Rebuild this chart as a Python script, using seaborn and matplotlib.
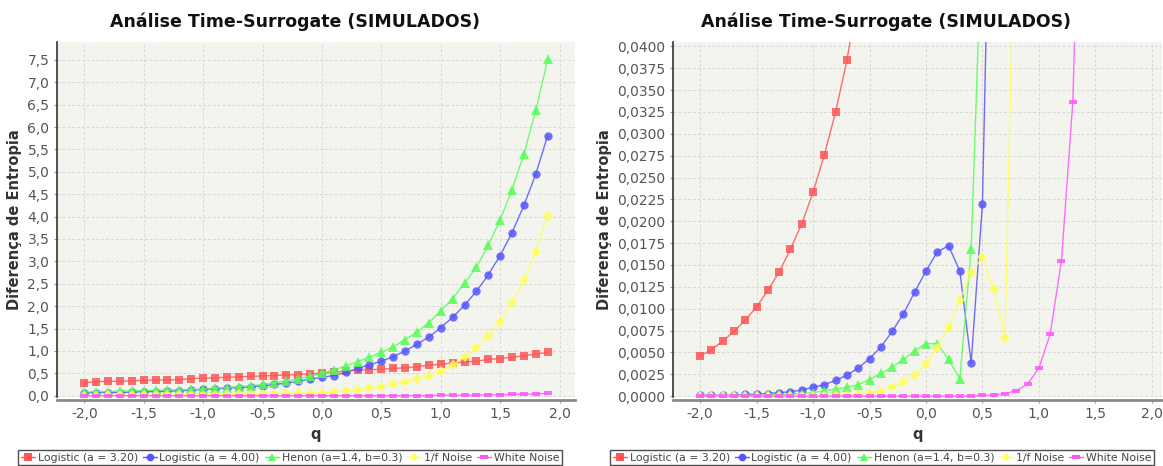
import numpy as np
import pandas as pd
import matplotlib
matplotlib.use("Agg")
import matplotlib.pyplot as plt
from matplotlib.lines import Line2D
from matplotlib.ticker import FuncFormatter, MultipleLocator
import seaborn as sns

# q values shared by every series
q = [-2.0, -1.9, -1.8, -1.7, -1.6, -1.5, -1.4, -1.3, -1.2, -1.1,
     -1.0, -0.9, -0.8, -0.7, -0.6, -0.5, -0.4, -0.3, -0.2, -0.1,
     0.0, 0.1, 0.2, 0.3, 0.4, 0.5, 0.6, 0.7, 0.8, 0.9,
     1.0, 1.1, 1.2, 1.3, 1.4, 1.5, 1.6, 1.7, 1.8, 1.9]

series_names = ["Logistic (a = 3.20)", "Logistic (a = 4.00)",
                "Henon (a=1.4, b=0.3)", "1/f Noise", "White Noise"]

# ---- left chart: entropy difference ----
left_log320 = [0.29, 0.31, 0.32, 0.32, 0.33, 0.34, 0.35, 0.35, 0.36, 0.38,
               0.39, 0.40, 0.41, 0.42, 0.43, 0.44, 0.45, 0.46, 0.47, 0.49,
               0.50, 0.52, 0.55, 0.57, 0.58, 0.59, 0.61, 0.62, 0.65, 0.68,
               0.70, 0.73, 0.75, 0.77, 0.81, 0.83, 0.86, 0.89, 0.93, 0.97]
left_log400 = [0.06, 0.07, 0.07, 0.07, 0.08, 0.09, 0.09, 0.10, 0.11, 0.12,
               0.14, 0.15, 0.17, 0.18, 0.20, 0.22, 0.25, 0.28, 0.32, 0.37,
               0.41, 0.45, 0.52, 0.61, 0.69, 0.77, 0.87, 1.00, 1.15, 1.31,
               1.52, 1.75, 2.02, 2.33, 2.70, 3.13, 3.64, 4.25, 4.95, 5.81]
left_henon = [0.08, 0.09, 0.09, 0.10, 0.11, 0.11, 0.12, 0.13, 0.13, 0.14,
              0.15, 0.17, 0.18, 0.20, 0.22, 0.25, 0.29, 0.33, 0.38, 0.43,
              0.50, 0.58, 0.66, 0.76, 0.86, 0.97, 1.09, 1.25, 1.42, 1.63,
              1.89, 2.17, 2.51, 2.87, 3.36, 3.93, 4.60, 5.40, 6.37, 7.51]
left_pink = [0.00, 0.00, 0.01, 0.01, 0.01, 0.01, 0.01, 0.01, 0.02, 0.02,
             0.02, 0.02, 0.03, 0.03, 0.03, 0.04, 0.04, 0.05, 0.05, 0.06,
             0.07, 0.08, 0.10, 0.13, 0.16, 0.20, 0.25, 0.30, 0.37, 0.45,
             0.55, 0.68, 0.86, 1.07, 1.33, 1.65, 2.07, 2.58, 3.21, 4.02]
left_white = [0.00, 0.00, 0.00, 0.00, 0.00, 0.00, 0.00, 0.00, 0.00, 0.00,
              0.00, 0.00, 0.00, 0.00, 0.00, 0.00, 0.00, 0.00, 0.00, 0.00,
              0.00, 0.00, 0.00, 0.00, 0.00, 0.00, 0.00, 0.00, 0.00, 0.00,
              0.01, 0.01, 0.01, 0.01, 0.02, 0.02, 0.03, 0.03, 0.04, 0.05]

# ---- right chart: entropy difference ----
right_log320 = [0.0046, 0.0053, 0.0063, 0.0074, 0.0087, 0.0102, 0.0121, 0.0142, 0.0168, 0.0197,
                0.0233, 0.0276, 0.0325, 0.0384, 0.0460, 0.0550, 0.0650, 0.0770, 0.0910, 0.1080,
                0.1280, 0.1520, 0.1800, 0.2130, 0.2520, 0.2980, 0.3520, 0.4150, 0.4890, 0.5750,
                0.6760, 0.7940, 0.9310, 1.0900, 1.2700, 1.4800, 1.7200, 2.0000, 2.3200, 2.6900]
right_log400 = [0.0001, 0.0001, 0.0001, 0.0001, 0.0002, 0.0002, 0.0003, 0.0004, 0.0005, 0.0007,
                0.0010, 0.0013, 0.0018, 0.0024, 0.0032, 0.0043, 0.0056, 0.0074, 0.0094, 0.0119,
                0.0143, 0.0165, 0.0172, 0.0143, 0.0038, 0.0220, 0.0820, 0.1500, 0.2400, 0.3600,
                0.5200, 0.7200, 0.9800, 1.3000, 1.7000, 2.2000, 2.8000, 3.5500, 4.4500, 5.5500]
right_henon = [0.0000, 0.0000, 0.0001, 0.0001, 0.0001, 0.0001, 0.0002, 0.0002, 0.0002, 0.0003,
               0.0004, 0.0006, 0.0008, 0.0010, 0.0013, 0.0019, 0.0026, 0.0033, 0.0042, 0.0052,
               0.0060, 0.0060, 0.0042, 0.0020, 0.0168, 0.0550, 0.1100, 0.1900, 0.3000, 0.4400,
               0.6200, 0.8500, 1.1400, 1.5000, 1.9500, 2.5000, 3.2000, 4.0500, 5.1000, 6.4000]
right_pink = [0.0000, 0.0000, 0.0000, 0.0000, 0.0000, 0.0000, 0.0000, 0.0000, 0.0000, 0.0000,
              0.0000, 0.0000, 0.0001, 0.0001, 0.0002, 0.0004, 0.0006, 0.0010, 0.0016, 0.0024,
              0.0037, 0.0055, 0.0079, 0.0110, 0.0141, 0.0159, 0.0122, 0.0067, 0.0660, 0.1100,
              0.1800, 0.2700, 0.4000, 0.5700, 0.8000, 1.1000, 1.4800, 1.9800, 2.6000, 3.4000]
right_white = [0.0000, 0.0000, 0.0000, 0.0000, 0.0000, 0.0000, 0.0000, 0.0000, 0.0000, 0.0000,
               0.0000, 0.0000, 0.0000, 0.0000, 0.0000, 0.0000, 0.0000, 0.0000, 0.0000, 0.0000,
               0.0000, 0.0000, 0.0000, 0.0000, 0.0000, 0.0001, 0.0001, 0.0003, 0.0006, 0.0014,
               0.0032, 0.0071, 0.0155, 0.0336, 0.0770, 0.1600, 0.3000, 0.5200, 0.8500, 1.3000]

colors = ["#ff5555", "#5555ff", "#55ff55", "#ffff55", "#ff55ff"]
flat_rect = [(-1.0, -0.45), (1.0, -0.45), (1.0, 0.45), (-1.0, 0.45), (-1.0, -0.45)]
markers = ["s", "o", "^", "D", flat_rect]
msizes = [6, 6, 6.5, 5, 6]

sns.set_theme(style="white")
plt.rcParams["font.family"] = ["DejaVu Sans"]

TITLE = "Análise Time-Surrogate (SIMULADOS)"


def long_frame(values):
    frames = []
    for name, vals in zip(series_names, values):
        frames.append(pd.DataFrame({"q": q, "valor": vals, "serie": name}))
    return pd.concat(frames, ignore_index=True)


def draw_panel(ax, df, ylim, ystep, yfmt, xlim):
    ax.set_facecolor("#f4f4ef")
    for name, col, mk, ms in zip(series_names, colors, markers, msizes):
        sub = df[df["serie"] == name]
        sns.lineplot(data=sub, x="q", y="valor", ax=ax, color=col,
                     marker=mk, markersize=ms, markeredgewidth=0,
                     linewidth=1.0, alpha=0.85, legend=False,
                     estimator=None, sort=False)
    ax.set_xlim(*xlim)
    ax.set_ylim(*ylim)
    ax.xaxis.set_major_locator(MultipleLocator(0.5))
    ax.yaxis.set_major_locator(MultipleLocator(ystep))
    ax.xaxis.set_major_formatter(FuncFormatter(lambda v, p: f"{v:.1f}".replace(".", ",").replace("-0,0", "0,0")))
    ax.yaxis.set_major_formatter(FuncFormatter(lambda v, p: (yfmt.format(v)).replace(".", ",").replace("-", "")))
    ax.grid(True, color="#d8d8d8", linestyle=(0, (3, 2)), linewidth=0.7)
    for s in ["top", "right"]:
        ax.spines[s].set_visible(False)
    ax.spines["left"].set_color("#333333")
    ax.spines["left"].set_linewidth(1.2)
    ax.spines["bottom"].set_color("#8a8a8a")
    ax.spines["bottom"].set_linewidth(2.0)
    ax.spines["bottom"].set_position(("outward", 2))
    ax.tick_params(axis="both", which="major", labelsize=10, labelcolor="#555555",
                   color="#999999", length=2.5, width=0.8, direction="out",
                   left=True, bottom=True, pad=3)
    ax.set_xlabel("q", fontsize=10.5, fontweight="bold", color="#333333", labelpad=4)
    ax.set_ylabel("Diferença de Entropia", fontsize=10.5, fontweight="bold", color="#333333", labelpad=4)


fig = plt.figure(figsize=(11.63, 4.66), dpi=100)
ax1 = fig.add_axes([57 / 1163, 69 / 466, 518 / 1163, 355 / 466])
ax2 = fig.add_axes([673 / 1163, 69 / 466, 489 / 1163, 355 / 466])

draw_panel(ax1, long_frame([left_log320, left_log400, left_henon, left_pink, left_white]),
           (-0.03, 7.9), 0.5, "{:.1f}", (-2.23, 2.13))
draw_panel(ax2, long_frame([right_log320, right_log400, right_henon, right_pink, right_white]),
           (-0.0001, 0.0405), 0.0025, "{:.4f}", (-2.24, 2.09))

for cx in [295 / 1163, 886 / 1163]:
    fig.text(cx, 1 - 22 / 466, TITLE, ha="center", va="center", fontsize=12.5,
             fontweight="bold", color="#111111")

handles = [Line2D([0], [0], color=c, marker=m, markersize=s - 0.5, markeredgewidth=0, linewidth=1.0)
           for c, m, s in zip(colors, markers, msizes)]

for ax, cx in [(ax1, 290 / 1163), (ax2, 882 / 1163)]:
    leg = ax.legend(handles, series_names, ncol=5, loc="lower center",
                    bbox_to_anchor=(cx, 0.0), bbox_transform=fig.transFigure,
                    frameon=True, fancybox=False, fontsize=7.8, handlelength=1.3,
                    handletextpad=0.25, columnspacing=0.45, borderpad=0.25,
                    borderaxespad=0.05)
    leg.get_frame().set_edgecolor("#222222")
    leg.get_frame().set_linewidth(1.0)
    for t in leg.get_texts():
        t.set_color("#444444")

fig.savefig("out.png", dpi=100, facecolor="white")
